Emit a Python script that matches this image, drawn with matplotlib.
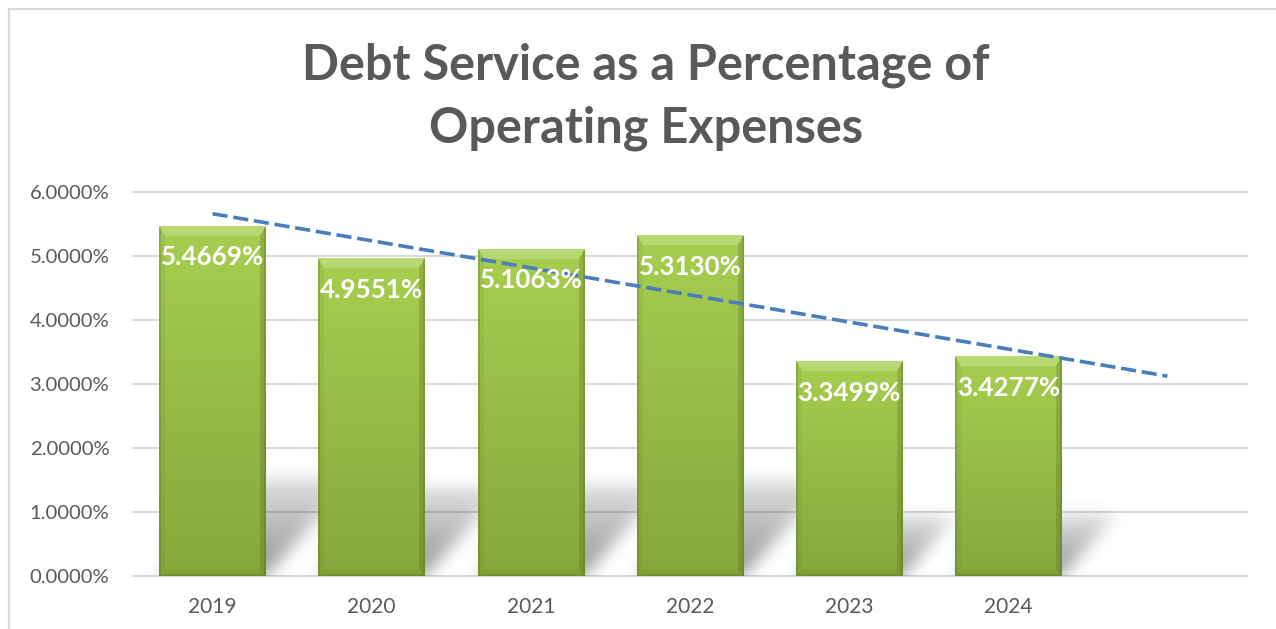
import numpy as np
import matplotlib
matplotlib.use("Agg")
import matplotlib.pyplot as plt
from matplotlib.patches import Rectangle

years = ["2019", "2020", "2021", "2022", "2023", "2024"]
pct = [5.4669, 4.9551, 5.1063, 5.3130, 3.3499, 3.4277]
y_ticks = [0, 1, 2, 3, 4, 5, 6]
n_slots = 7  # one extra slot for the forecast part of the trendline

plt.rcParams['font.family'] = ['Lato', 'DejaVu Sans']
GREY_TXT = '#595959'
GRID = '#d9d9d9'

W_PX, H_PX = 1276, 629
fig = plt.figure(figsize=(W_PX / 100, H_PX / 100), dpi=100)
ax_l, ax_b, ax_r, ax_t = 133, 53, 1247, 437
ax = fig.add_axes([ax_l / W_PX, ax_b / H_PX, (ax_r - ax_l) / W_PX, (ax_t - ax_b) / H_PX])
ax_w, ax_h = ax_r - ax_l, ax_t - ax_b
px_x = ax_w / n_slots          # pixels per category
px_y = ax_h / max(y_ticks)     # pixels per percent

xs = np.arange(len(years)) + 0.5
bar_w = 0.67

# gridlines
for t in y_ticks:
    ax.axhline(t, color=GRID, lw=1.5, zorder=0, clip_on=False)


def blur(img, sigma):
    r = int(3 * sigma)
    k = np.exp(-0.5 * (np.arange(-r, r + 1) / sigma) ** 2)
    k /= k.sum()
    img = np.apply_along_axis(lambda v: np.convolve(v, k, mode='same'), 0, img)
    img = np.apply_along_axis(lambda v: np.convolve(v, k, mode='same'), 1, img)
    return img


# soft perspective shadow behind the bars
gy, gx = np.mgrid[0:ax_h, 0:ax_w]
ydat = (ax_h - 1 - gy) / px_y
xdat = gx / px_x
shadow = np.zeros((ax_h, ax_w))
for xc, v in zip(xs, pct):
    hs = 0.28 * v
    shear = 0.9 * px_y / px_x
    x0 = xc - bar_w / 2 + shear * ydat
    x1 = xc + bar_w / 2 + shear * ydat
    m = (ydat <= hs) & (xdat >= x0) & (xdat <= x1)
    fade = np.clip(1 - 0.7 * ydat / hs, 0, 1)
    shadow = np.maximum(shadow, m * fade)
shadow = blur(shadow, 8) * 0.42
rgba = np.zeros((ax_h, ax_w, 4))
rgba[..., 3] = shadow
ax.imshow(rgba, extent=[0, n_slots, 0, max(y_ticks)], origin='upper',
          aspect='auto', zorder=1, interpolation='bilinear')


def bevel_bar(w, h):
    yy, xx = np.mgrid[0:h, 0:w]
    t = (yy / max(h - 1, 1))[..., None]
    top = np.array([0xa6, 0xcf, 0x50]) / 255
    bot = np.array([0x86, 0xa8, 0x3b]) / 255
    img = top * (1 - t) + bot * t
    # bevel depth per side: top, left, right, bottom
    depth = np.array([10, 6, 6, 6])[:, None, None]
    d = np.stack([yy, xx, w - 1 - xx, h - 1 - yy]) / depth
    which = d.argmin(0)
    dmin = d.min(0)
    inb = dmin < 1
    white = np.ones(3)
    dark = np.array([0.25, 0.33, 0.08])
    out = img.copy()
    sel = inb & (which == 0)
    out[sel] = img[sel] * 0.8 + white * 0.2
    sel = inb & (which == 1)
    out[sel] = img[sel] * 0.92 + dark * 0.08
    sel = inb & (which == 2)
    out[sel] = img[sel] * 0.78 + dark * 0.22
    sel = inb & (which == 3)
    out[sel] = img[sel] * 0.9 + dark * 0.1
    edge = (np.stack([yy, xx, w - 1 - xx, h - 1 - yy]).min(0) < 1.5) & (which != 0)
    out[edge] = out[edge] * 0.8 + dark * 0.2
    return np.clip(out, 0, 1)


for xc, v in zip(xs, pct):
    w = int(round(bar_w * px_x))
    h = int(round(v * px_y))
    ax.imshow(bevel_bar(w, h), extent=[xc - bar_w / 2, xc + bar_w / 2, 0, v],
              origin='upper', aspect='auto', zorder=3, interpolation='bilinear')

# linear trendline, one period forward
coef = np.polyfit(xs, pct, 1)
xt = np.array([xs[0], n_slots - 0.5])
ax.plot(xt, np.polyval(coef, xt), color='#4a7dbb', lw=2.6,
        dashes=(4.2, 1.6), zorder=4, solid_capstyle='butt')

for xc, v in zip(xs, pct):
    ax.annotate(f"{v:.4f}%", (xc, v), xytext=(0, -22.5), textcoords='offset points',
                ha='center', va='center', color='white', fontweight='bold',
                fontsize=18.7, zorder=5)

ax.set_xlim(0, n_slots)
ax.set_ylim(0, max(y_ticks))
ax.set_yticks(y_ticks)
ax.set_yticklabels([f"{t:.4f}%" for t in y_ticks])
ax.set_xticks(xs)
ax.set_xticklabels(years)
ax.tick_params(axis='y', length=0, pad=17, labelsize=14.6, labelcolor=GREY_TXT)
ax.tick_params(axis='x', length=0, pad=15, labelsize=15, labelcolor=GREY_TXT)
for s in ax.spines.values():
    s.set_visible(False)

fig.text(646 / W_PX, 1 - 65 / H_PX, "Debt Service as a Percentage of",
         ha='center', va='center', fontsize=35, fontweight='bold', color=GREY_TXT)
fig.text(646 / W_PX, 1 - 128 / H_PX, "Operating Expenses",
         ha='center', va='center', fontsize=35, fontweight='bold', color=GREY_TXT)

# outer chart frame
fig.patches.append(Rectangle((9 / W_PX, -0.1), 1.2, 1 - 9 / H_PX + 0.1,
                             transform=fig.transFigure, fill=False,
                             edgecolor=GRID, lw=1.6))

fig.savefig("out.png", dpi=100, facecolor='white')
